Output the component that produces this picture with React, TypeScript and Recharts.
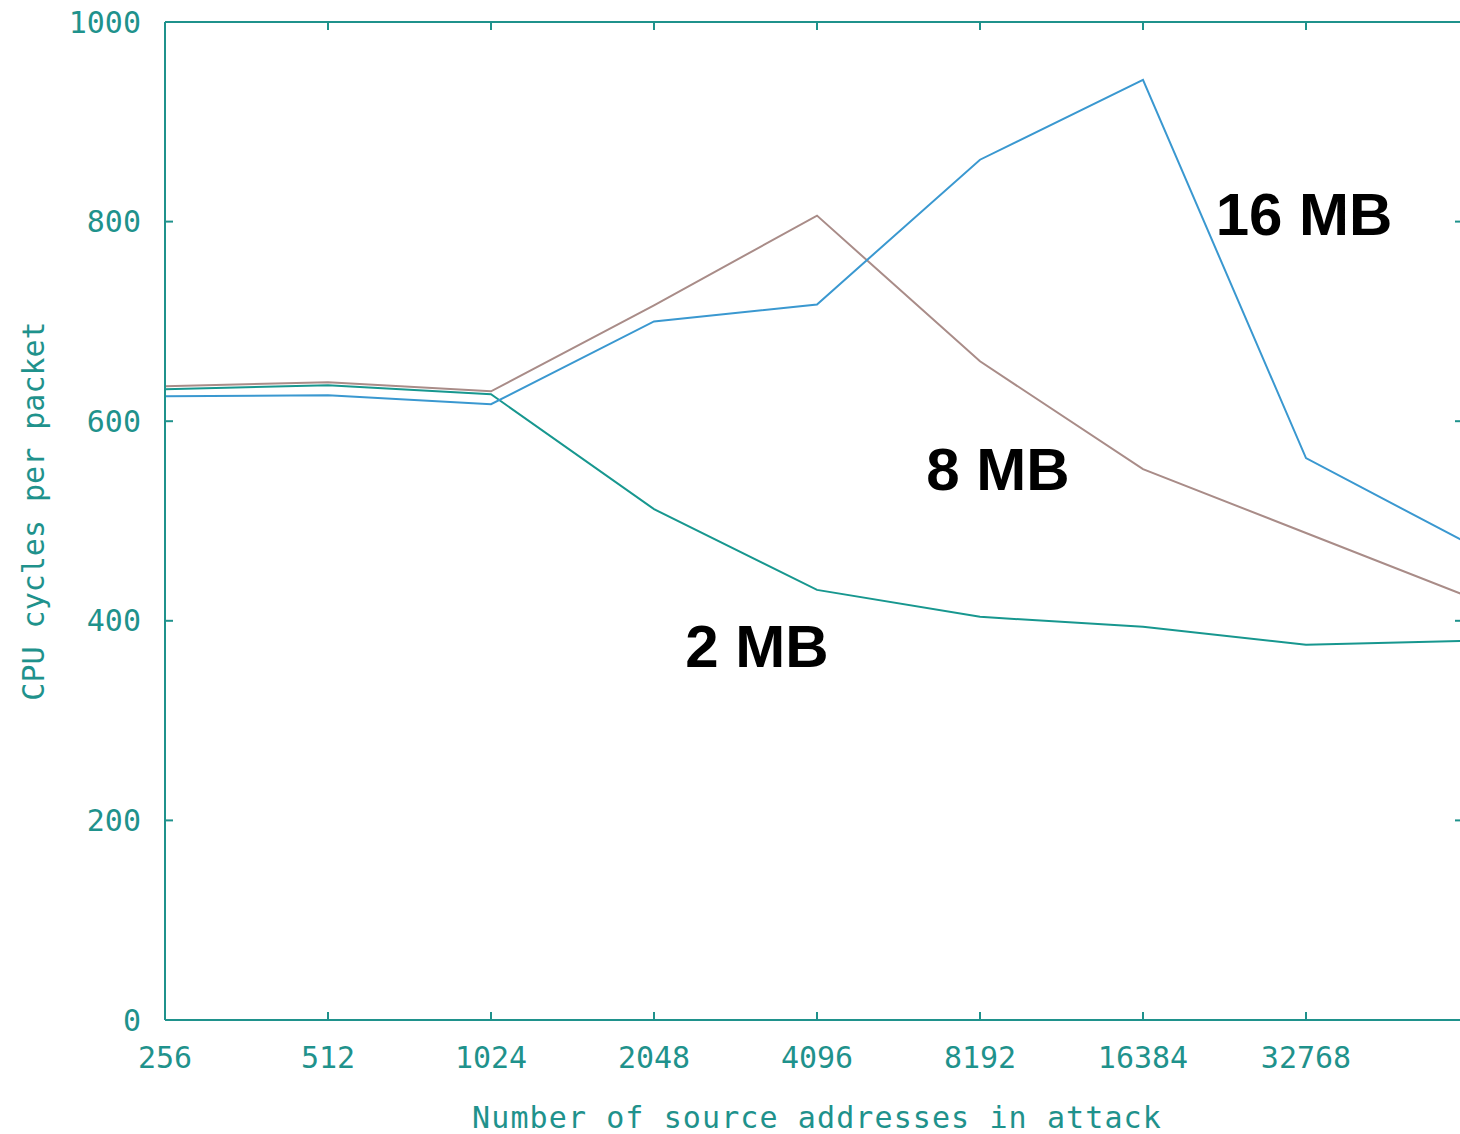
import React from 'react'
import { LineChart, Line, XAxis, YAxis, ReferenceDot, ReferenceLine } from 'recharts'

// source address counts (log2 steps)
const categories = ['256', '512', '1024', '2048', '4096', '8192', '16384', '32768', '65536']

// CPU cycles per packet for each cache size
const mb2 = [632, 636, 627, 512, 431, 404, 394, 376, 380]
const mb8 = [635, 639, 630, 716, 806, 660, 552, 488, 424]
const mb16 = [625, 626, 617, 700, 717, 862, 942, 563, 477]

const yTicks = [0, 200, 400, 600, 800, 1000]
// the last category sits on the cropped right edge, its label is not visible
const xTickLabels = categories.slice(0, -1)

// in-plot series labels
const annoText = ['16 MB', '8 MB', '2 MB']
const annoX = ['32768', '8192', '4096']
const annoY = [808, 553, 375]
const annoDx = [-2, 18, -60]

const TEAL = '#1f928c'
const MONO = '"DejaVu Sans Mono", "Liberation Mono", monospace'

const data = categories.map((c, i) => ({
    n: c,
    mb2: mb2[i],
    mb8: mb8[i],
    mb16: mb16[i],
}))

const empty = () => ''
const bottomLabel = (v: string) => (xTickLabels.includes(v) ? v : '')

// short inward marks on the left and right frame for each y tick
const FrameTicks = (p: any) => (
    <g stroke={TEAL} strokeWidth={2}>
        <line x1={p.x1} x2={p.x1 + 8} y1={p.y1} y2={p.y1} />
        <line x1={p.x2 - 14} x2={p.x2} y1={p.y2} y2={p.y2} />
    </g>
)

export default function App() {
    return (
        <div style={{ position: 'fixed', left: 0, top: 0, width: 1460, height: 1134, overflow: 'hidden', background: '#fff' }}>
            <LineChart width={1500} height={1134} data={data} margin={{ top: 22, right: 31, bottom: 0, left: 0 }}>
                {/* inward tick marks (gnuplot style) */}
                <XAxis xAxisId="bi" dataKey="n" orientation="bottom" mirror height={1} axisLine={false}
                    tickLine={{ stroke: TEAL, strokeWidth: 2 }} tickSize={8} tickFormatter={empty} interval={0} />
                <XAxis xAxisId="t" dataKey="n" orientation="top" mirror height={1}
                    axisLine={{ stroke: TEAL, strokeWidth: 2 }}
                    tickLine={{ stroke: TEAL, strokeWidth: 2 }} tickSize={8} tickFormatter={empty} interval={0} />

                <XAxis xAxisId="b" dataKey="n" height={114} interval={0} tickFormatter={bottomLabel}
                    axisLine={{ stroke: TEAL, strokeWidth: 2 }} tickLine={false} tickSize={0} tickMargin={27}
                    tick={{ fill: TEAL, fontSize: 30, fontFamily: MONO }}
                    label={{
                        value: 'Number of source addresses in attack', position: 'insideBottom', offset: 6,
                        fill: TEAL, fontSize: 30, fontFamily: MONO, letterSpacing: 1.1,
                    }} />
                <YAxis yAxisId="l" width={165} domain={[0, 1000]} ticks={yTicks}
                    axisLine={{ stroke: TEAL, strokeWidth: 2 }} tickLine={false} tickSize={0} tickMargin={24}
                    tick={{ fill: TEAL, fontSize: 30, fontFamily: MONO }}
                    label={{
                        content: (p: any) => {
                            const vb = p.viewBox
                            const cx = vb.x + 33
                            const cy = vb.y + vb.height / 2 - 10
                            return (
                                <text x={cx} y={cy} transform={`rotate(-90 ${cx} ${cy})`} textAnchor="middle"
                                    dominantBaseline="central" fill={TEAL} fontSize={30} fontFamily={MONO}>
                                    CPU cycles per packet
                                </text>
                            )
                        },
                    }} />

                {yTicks.map((v) => (
                    <ReferenceLine key={v} xAxisId="b" yAxisId="l" y={v} shape={FrameTicks} />
                ))}

                <Line xAxisId="b" yAxisId="l" dataKey="mb2" stroke="#17978f" strokeWidth={2} dot={false} isAnimationActive={false} />
                <Line xAxisId="b" yAxisId="l" dataKey="mb8" stroke="#a98c88" strokeWidth={2} dot={false} isAnimationActive={false} />
                <Line xAxisId="b" yAxisId="l" dataKey="mb16" stroke="#3a98d0" strokeWidth={2} dot={false} isAnimationActive={false} />

                {annoText.map((t, i) => (
                    <ReferenceDot key={t} xAxisId="b" yAxisId="l" x={annoX[i]} y={annoY[i]} r={0}
                        fill="none" stroke="none"
                        label={{
                            content: (p: any) => {
                                const vb = p.viewBox
                                const cx = vb.x + (vb.width || 0) / 2 + annoDx[i]
                                const cy = vb.y + (vb.height || 0) / 2
                                return (
                                    <text x={cx} y={cy} textAnchor="middle" dy="0.36em" fill="#000"
                                        fontSize={60} fontWeight={700} fontFamily='"Liberation Sans", Arial, sans-serif'>
                                        {t}
                                    </text>
                                )
                            },
                        }} />
                ))}
            </LineChart>
        </div>
    )
}
